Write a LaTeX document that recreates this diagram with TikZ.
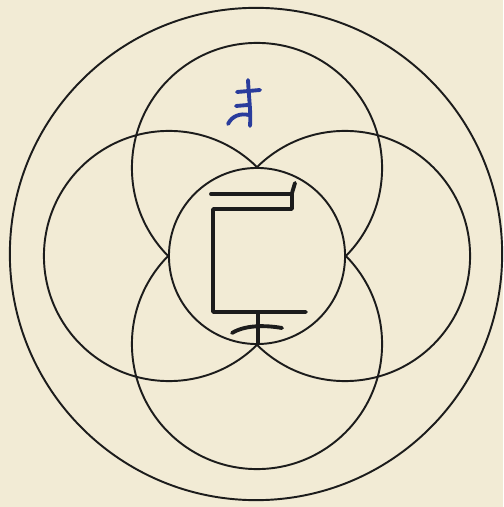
\documentclass[tikz,border=0pt]{standalone}
\usetikzlibrary{calc}
\definecolor{paper}{HTML}{F2EBD5}
\definecolor{ink}{HTML}{1C1C1C}
\definecolor{seed}{HTML}{2A3C9C}
\tikzset{ring/.style={draw=ink,line width=0.55pt},
glyph/.style={draw=ink,line width=1.1pt,line cap=round,line join=round},
seedglyph/.style={draw=seed,line width=1.1pt,line cap=round,line join=round}}

\begin{document}
\begin{tikzpicture}[x=0.01cm,y=-0.01cm]
\fill[paper] (0,0) rectangle (503,507);
\useasboundingbox (0,0) rectangle (503,507);
\coordinate (o) at (257,256);
\coordinate (rim) at (256,254);
\draw[ring] (rim) circle[radius=2.46cm];
\foreach \dx/\dy in {88/0,0/88,-88/0,0/-88}
  \draw[ring] ($(o)+(\dx,\dy)$) circle[radius=1.25cm];
\draw[ring,fill=paper] (o) circle[radius=0.88cm];
% seed syllable (blue)
\draw[seedglyph] (248,80) .. controls (249,100) and (251,112) .. (250,126);
\draw[seedglyph] (237,92) -- (260,90);
\draw[seedglyph] (236,106) -- (248,105);
\draw[seedglyph] (249,115) .. controls (240,113) and (232,116) .. (228,124);
% central sign
\draw[glyph] (211,194) -- (292,194);
\draw[glyph] (295,183) -- (292,193) -- (292,209) -- (213,209) -- (213,312) -- (306,312);
\draw[glyph] (258,312) -- (258,343);
\draw[glyph] (232,333) .. controls (245,325) and (265,325) .. (282,328);
\end{tikzpicture}
\end{document}
